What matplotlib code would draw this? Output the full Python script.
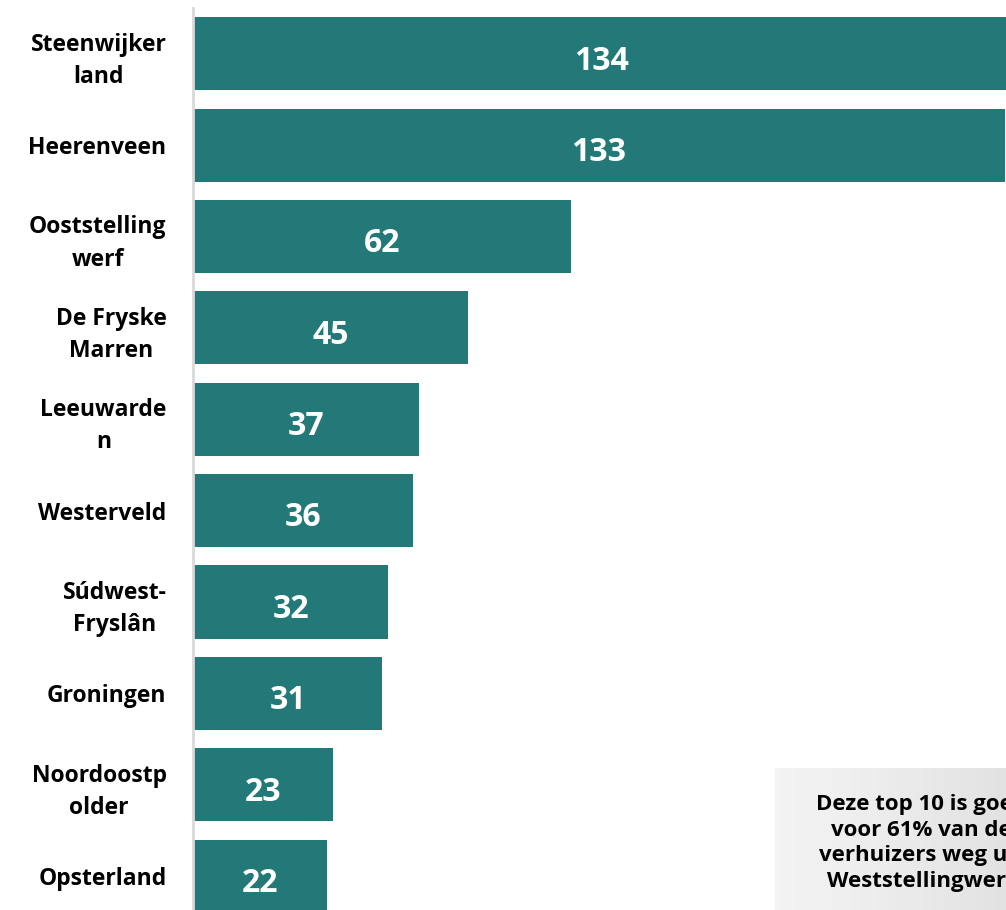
import numpy as np
import matplotlib.pyplot as plt

gemeenten = ["Steenwijker\nland", "Heerenveen", "Ooststelling\nwerf", "De Fryske\nMarren",
             "Leeuwarde\nn", "Westerveld", "Súdwest-\nFryslân", "Groningen",
             "Noordoostp\nolder", "Opsterland"]
verhuizers = [134, 133, 62, 45, 37, 36, 32, 31, 23, 22]

plt.rcParams['font.family'] = ['Open Sans', 'DejaVu Sans']

fig = plt.figure(figsize=(10.06, 9.10), dpi=100)
ax = fig.add_axes([193 / 1006, 0, 1 - 193 / 1006, 902 / 910])

y = np.arange(len(gemeenten))
bars = ax.barh(y, verhuizers, height=0.8, color='#237878')

for i, v in enumerate(verhuizers):
    ax.text(v / 2, i + 0.08, str(v), ha='center', va='center',
            color='white', fontsize=23, fontweight='bold')

ax.set_yticks(y)
ax.set_yticklabels(gemeenten, fontsize=16.5, fontweight='bold', linespacing=1.45)
for lbl in ax.get_yticklabels():
    lbl.set_multialignment('center')
ax.tick_params(axis='y', length=0, pad=19)
ax.set_xticks([])
ax.set_xlim(0, 133.2)
ax.set_ylim(9.37, -0.5)
for s in ['top', 'right', 'bottom']:
    ax.spines[s].set_visible(False)
ax.spines['left'].set_color('#d9d9d9')
ax.spines['left'].set_linewidth(2)

# grijs tekstvak rechtsonder (valt, net als in het origineel, deels buiten beeld)
bx = fig.add_axes([775 / 1006, 0, 1 - 775 / 1006, 142 / 910])
grad = np.linspace(0, 1, 256).reshape(1, -1)
bx.imshow(grad, aspect='auto', cmap='Greys', vmin=-1.0, vmax=9, extent=[0, 1, 0, 1])
bx.set_xlim(0, 1)
bx.set_ylim(0, 1)
bx.axis('off')
fig.text(921 / 1006, 1 - 843 / 910,
         "Deze top 10 is goed\nvoor 61% van de\nverhuizers weg uit\nWeststellingwerf",
         ha='center', va='center', fontsize=16, fontweight='bold', linespacing=1.28)

fig.savefig('out.png', dpi=100)
